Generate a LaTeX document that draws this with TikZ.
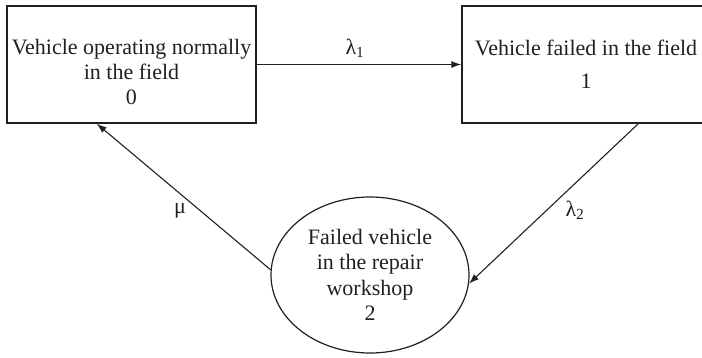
\documentclass[tikz,border=0pt]{standalone}
\usepackage{fontspec}
\setmainfont{Liberation Serif}
\usetikzlibrary{shapes.geometric,arrows.meta,calc}
\definecolor{ink}{HTML}{231F20}
\begin{document}
\begin{tikzpicture}[x=1pt,y=-1pt,color=ink,
  box/.style={draw,line width=1.3pt,minimum width=249pt,minimum height=117pt,inner sep=0pt},
  txt/.style={align=center,inner sep=0pt,font=\fontsize{22}{25}\selectfont},
  oval/.style={draw,ellipse,line width=1.2pt,minimum width=198pt,minimum height=156pt,inner sep=0pt,align=center,font=\fontsize{22}{25.5}\selectfont},
  lbl/.style={inner sep=0pt,font=\fontsize{22}{25}\selectfont},
  conn/.style={line width=1.1pt,-{Latex[length=10pt,width=7pt]}}
]
\useasboundingbox (0,0) rectangle (702,357);
\node[box] (s0) at (131.5,64.5) {};
\node[txt] (t0) at (131.5,72) {Vehicle operating normally\\in the field\\0};
\node[box,minimum width=248pt,txt] (s1) at (586,64.5) {Vehicle failed in the field\\[8pt]1};
\node[oval] (s2) at (370,275) {Failed vehicle\\in the repair\\workshop\\2};
\coordinate (s1b) at ($(s1.south west)!0.71!(s1.south east)$);
\coordinate (s0b) at ($(s0.south west)!0.361!(s0.south east)$);
\draw[conn] (s0.east) -- (s1.west);
\draw[conn] (s1b) -- (s2.-5);
\draw[conn] (s2.177) -- (s0b);
\node[lbl] (l1) at (355,48) {λ\textsubscript{1}};
\node[lbl] (l2) at (575,210) {λ\textsubscript{2}};
\node[lbl] (mu) at (180,211) {μ};
\end{tikzpicture}
\end{document}
